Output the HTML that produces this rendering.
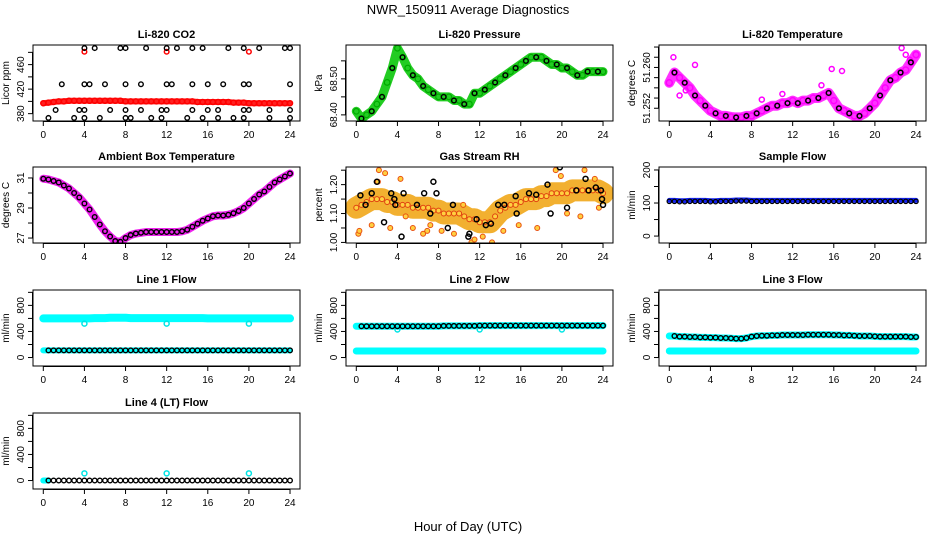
<!DOCTYPE html>
<html><head><meta charset="utf-8"><style>
html,body{margin:0;padding:0;background:#fff;}
svg{display:block;font-family:"Liberation Sans",sans-serif;}
</style></head><body>
<svg id="chart" width="936" height="540" viewBox="0 0 936 540" xmlns="http://www.w3.org/2000/svg">
<defs id="defs"></defs>
<rect width="936" height="540" fill="#fff"/>
<text x="468" y="14" text-anchor="middle" font-size="13">NWR_150911  Average Diagnostics</text>
<text x="468" y="531" text-anchor="middle" font-size="13">Hour of Day (UTC)</text>
</svg>
<script>
const xTicks=[0,4,8,12,16,20,24];
const co2Red=[397,398,399,400,400,401,401,401,401,401,401,401,401,401,401,401,400,400,400,400,400,400,400,400,400,400,400,400,400,400,399,399,399,399,399,399,399,398,398,398,397,397,397,397,397,397,397,397,397];
const co2BlackHours=[4,5,7.5,8,10,12,13,14.5,15.5,18,19.5,21,23.5,24, 1.8,4,4.5,6,8,9.5,12,12.5,14.5,16,17.5,19.5,20,24, 1.2,3.5,4,6.5,8,9.5,11.5,12,14.5,16,17,19.5,20,22,24, 0.5,3,4,5.5,8,8.5,10.5,11.5,14,15.5,17,18.5,19.5,22,24];
const co2BlackValues=[487,487,487,487,487,487,487,487,487,487,487,487,487,487, 428,428,428,428,428,428,428,428,428,428,428,428,428,428, 386,386,386,386,386,386,386,386,386,386,386,386,386,386,386, 373,373,373,373,373,373,373,373,373,373,373,373,373,373,373];
const co2OutHours=[4,12,20];
const co2OutValues=[481,481,481];
const pressure=[68.41,68.39,68.40,68.41,68.43,68.45,68.49,68.53,68.585,68.56,68.53,68.51,68.50,68.48,68.47,68.46,68.45,68.45,68.45,68.44,68.44,68.43,68.43,68.46,68.46,68.47,68.48,68.49,68.50,68.51,68.52,68.53,68.54,68.55,68.56,68.56,68.56,68.55,68.54,68.54,68.53,68.53,68.52,68.51,68.51,68.52,68.52,68.52,68.52];
const liTemp=[51.257,51.259,51.258,51.257,51.256,51.2545,51.2535,51.2525,51.2515,51.251,51.2505,51.2505,51.2503,51.2502,51.2502,51.2505,51.2505,51.251,51.2515,51.252,51.2525,51.2525,51.253,51.253,51.2535,51.253,51.2535,51.2535,51.254,51.254,51.2545,51.255,51.2535,51.252,51.2515,51.251,51.2505,51.2505,51.251,51.252,51.253,51.2545,51.256,51.2575,51.258,51.259,51.2595,51.261,51.2625];
const liTempOutHours=[0.4,1,1.6,9,15.8,16.8,22.6,23,23.4,2.5,14.8,11];
const liTempOutValues=[51.262,51.2545,51.2555,51.2537,51.2597,51.2593,51.2638,51.2625,51.2615,51.2605,51.2565,51.2548];
const ambient=[30.95,30.9,30.8,30.7,30.5,30.3,30.0,29.7,29.3,28.9,28.4,27.9,27.45,27.1,26.8,26.75,27.0,27.2,27.3,27.35,27.4,27.4,27.4,27.4,27.4,27.4,27.4,27.45,27.55,27.75,27.95,28.15,28.3,28.45,28.5,28.5,28.55,28.65,28.8,29.0,29.3,29.6,29.9,30.1,30.4,30.7,30.9,31.1,31.3];
const rhMean=[1.12,1.13,1.14,1.15,1.15,1.15,1.14,1.14,1.13,1.13,1.13,1.12,1.12,1.12,1.12,1.11,1.11,1.10,1.10,1.10,1.10,1.09,1.08,1.08,1.07,1.07,1.07,1.09,1.11,1.12,1.13,1.13,1.14,1.15,1.15,1.15,1.16,1.16,1.17,1.17,1.17,1.17,1.18,1.18,1.18,1.18,1.18,1.18,1.17];
const rhScatterHours=[0.2,0.3,1.5,2.2,2.8,3.3,4.3,4.8,5.5,6.5,7.2,8.3,9.5,10.4,11.2,11.5,12.3,13.2,14.3,15.8,17.6,19.4,19.9,20.5,21.8,22.2,23.2,23.6,2.1,6.9];
const rhScatterValues=[1.03,1.04,1.06,1.25,1.24,1.05,1.22,1.09,1.05,1.03,1.06,1.04,1.03,1.13,1.00,1.01,1.02,1.00,1.04,1.06,1.05,1.25,1.23,1.10,1.09,1.25,1.22,1.12,1.21,1.04];
const rhBlackHours=[0.4,0.9,1.5,2.0,2.7,3.4,3.7,3.8,4.4,4.6,5.9,6.6,7.2,7.5,7.8,8.9,9.4,10.9,11.0,11.7,12.6,13.1,13.8,14.4,15.5,15.6,16.8,17.5,18.6,18.9,19.8,20.5,21.4,22.3,22.6,23.3,23.8,23.9,24.0];
const rhBlackValues=[1.163,1.13,1.17,1.21,1.07,1.17,1.15,1.13,1.02,1.17,1.13,1.17,1.10,1.21,1.17,1.05,1.13,1.02,1.03,1.08,1.06,1.065,1.13,1.13,1.16,1.10,1.17,1.165,1.20,1.10,1.26,1.12,1.18,1.22,1.18,1.19,1.18,1.15,1.13];
const sampleFlow=[108,108,107,107,108,108,108,108,107,107,108,108,108,109,109,109,108,108,108,108,108,108,108,108,108,108,108,108,108,108,108,108,108,108,108,108,108,108,108,108,108,108,108,108,108,108,108,108,108];
const line1Cyan=[600,600,600,600,600,600,600,600,600,600,605,605,605,610,610,610,610,605,605,605,605,605,605,605,605,605,605,605,605,605,605,605,600,600,600,600,600,600,600,600,600,600,600,600,600,600,600,600,600];
const line1Black=[110,110,110,110,110,110,110,110,110,110,110,110,110,110,110,110,110,110,110,110,110,110,110,110,110,110,110,110,110,110,110,110,110,110,110,110,110,110,110,110,110,110,110,110,110,110,110,110,110];
const line1OutHours=[4,12,20];
const line1OutValues=[520,520,520];
const line2Black=[480,480,480,480,480,480,480,480,480,480,480,480,480,480,480,480,480,485,485,485,485,485,485,485,490,490,490,490,490,490,490,490,490,490,490,490,490,490,490,490,490,490,490,490,490,490,490,490,490];
const line2Low=[100,100,100,100,100,100,100,100,100,100,100,100,100,100,100,100,100,100,100,100,100,100,100,100,100,100,100,100,100,100,100,100,100,100,100,100,100,100,100,100,100,100,100,100,100,100,100,100,100];
const line2OutHours=[4,12,20];
const line2OutValues=[430,430,430];
const line3Black=[330,330,320,320,315,315,310,310,305,305,300,300,295,290,290,300,320,330,335,335,340,340,345,345,345,345,345,350,350,350,350,350,345,345,340,340,335,330,330,330,325,320,320,320,320,320,320,315,315];
const line3Low=[100,100,100,100,100,100,100,100,100,100,100,100,100,100,100,100,100,100,100,100,100,100,100,100,100,100,100,100,100,100,100,100,100,100,100,100,100,100,100,100,100,100,100,100,100,100,100,100,100];
const line4Black=[0,0,0,0,0,0,0,0,0,0,0,0,0,0,0,0,0,0,0,0,0,0,0,0,0,0,0,0,0,0,0,0,0,0,0,0,0,0,0,0,0,0,0,0,0,0,0,0,0];
const line4OutHours=[4,12,20];
const line4OutValues=[110,110,110];

const NS="http://www.w3.org/2000/svg";
const svg=document.getElementById('chart');
const defs=document.getElementById('defs');
const colLeft=[33,346,659], rowTop=[45,167,290,413], PW=267, PH=76;
function mk(tag,attrs,parent){const e=document.createElementNS(NS,tag);for(const k in attrs)e.setAttribute(k,attrs[k]);parent.appendChild(e);return e;}
function halfHours(n){const a=[];for(let i=0;i<n;i++)a.push(i*0.5);return a;}

function panel(name,c,r,title,ylab,ymin,ymax,ticks,labels){
  const L=colLeft[c],T=rowTop[r];
  const cp=mk('clipPath',{id:'clip-'+name},defs);
  mk('rect',{x:L,y:T,width:PW,height:PH},cp);
  const g=mk('g',{},svg);
  
  
  const sx=h=>L+10.3+h*10.28;
  const sy=v=>T+(ymax-v)/(ymax-ymin)*PH;
  const t=mk('text',{x:L+PW/2,y:T-7,'text-anchor':'middle','font-size':11,'font-weight':'bold'},g);
  t.textContent=title;
  
  
  const plot=mk('g',{'clip-path':'url(#clip-'+name+')'},g);
  
  
  const box=mk('rect',{x:L,y:T,width:PW,height:PH,fill:'none',stroke:'#000','stroke-width':1},g);
  
  
  const xa=mk('g',{},g);
  
  
  mk('line',{x1:sx(0),x2:sx(24),y1:T+PH+0.5,y2:T+PH+0.5,stroke:'#000'},xa);
  xTicks.forEach(v=>{
    mk('line',{x1:sx(v),x2:sx(v),y1:T+PH,y2:T+PH+5,stroke:'#000'},xa);
    const tl=mk('text',{x:sx(v),y:T+PH+17,'text-anchor':'middle','font-size':10},xa);
    tl.textContent=v;
    
    
  });
  const ya=mk('g',{},g);
  
  
  const inT=ticks.filter(v=>v>=ymin-1e-9&&v<=ymax+1e-9);
  mk('line',{x1:L-0.5,x2:L-0.5,y1:sy(inT[0]),y2:sy(inT[inT.length-1]),stroke:'#000'},ya);
  inT.forEach(v=>mk('line',{x1:L-5,x2:L,y1:sy(v),y2:sy(v),stroke:'#000'},ya));
  labels.forEach(v=>{
    const y=sy(v);
    const tl=mk('text',{x:0,y:0,'text-anchor':'middle','font-size':10,transform:`translate(${L-9},${y}) rotate(-90)`},ya);
    tl.textContent=(ticks.dec!==undefined?v.toFixed(ticks.dec):v);
    
    
  });
  const yl=mk('text',{x:0,y:0,'text-anchor':'middle','font-size':10,transform:`translate(${L-24},${T+PH/2}) rotate(-90)`},g);
  yl.textContent=ylab;
  
  
  return {g:plot,sx,sy};
}
function circles(p,hours,vals,stroke,fill,r,sw,nm){
  hours.forEach((h,i)=>{
    const c=mk('circle',{cx:p.sx(h),cy:p.sy(vals[i]),r:r,stroke:stroke,fill:fill,'stroke-width':sw},p.g);
    
    
  });
}
function band(p,hours,vals,color,w,nm){
  const pts=hours.map((h,i)=>p.sx(h)+','+p.sy(vals[i])).join(' ');
  const pl=mk('polyline',{points:pts,fill:'none',stroke:color,'stroke-width':w,'stroke-linejoin':'round','stroke-linecap':'round'},p.g);
  
  
}
const H=halfHours(49);
function withDec(arr,d){arr.dec=d;return arr;}

let p=panel('co2',0,0,'Li-820 CO2','Licor ppm',368,492,[380,400,420,440,460,480],[380,420,460]);
band(p,H,co2Red,'#ff2020',6,'co2-red-band');
circles(p,H,co2Red,'#ff0000','none',2.5,1.5,'co2-red-point');
circles(p,co2OutHours,co2OutValues,'#ff0000','none',2.3,1.5,'co2-red-outlier');
circles(p,co2BlackHours,co2BlackValues,'#000','none',2.3,1.4,'co2-black-point');

p=panel('pressure',1,0,'Li-820 Pressure','kPa',68.383,68.594,withDec([68.40,68.45,68.50,68.55],2),[68.40,68.50]);
band(p,H,pressure,'#22cc22',9,'pressure-green-band');
circles(p,H,pressure,'#00aa00','none',2.8,1.2,'pressure-green-point');
circles(p,H.filter((h,i)=>i%2==1),pressure.filter((v,i)=>i%2==1),'#000','none',2.3,1.4,'pressure-black-point');

p=panel('li-temperature',2,0,'Li-820 Temperature','degrees C',51.2495,51.2644,withDec([51.252,51.254,51.256,51.258,51.260,51.262,51.264],3),[51.252,51.260]);
band(p,H,liTemp,'#ff33ff',10,'li-temp-magenta-band');
circles(p,H,liTemp,'#ff00ff','none',3,1.5,'li-temp-magenta-point');
circles(p,liTempOutHours,liTempOutValues,'#ff00ff','none',2.5,1.5,'li-temp-outlier');
circles(p,H.filter((h,i)=>i%2==1),liTemp.filter((v,i)=>i%2==1),'#000','none',2.3,1.5,'li-temp-black-point');

p=panel('ambient-temp',0,1,'Ambient Box Temperature','degrees C',26.67,31.73,[27,28,29,30,31],[27,29,31]);
band(p,H,ambient,'#ee22ee',8,'ambient-magenta-band');
circles(p,H,ambient,'#000','none',2.3,1.4,'ambient-black-point');

p=panel('gas-rh',1,1,'Gas Stream RH','percent',0.998,1.261,withDec([1.00,1.05,1.10,1.15,1.20,1.25],2),[1.00,1.10,1.20]);
band(p,H,rhMean,'#f2b030',22,'rh-orange-band');
circles(p,H,rhMean,'#e04010','#ffd040',2.5,1,'rh-orange-point');
circles(p,rhScatterHours,rhScatterValues,'#e85010','#ffd040',2.5,1,'rh-scatter-point');
circles(p,rhBlackHours,rhBlackValues,'#000','none',2.5,1.5,'rh-black-point');

p=panel('sample-flow',2,1,'Sample Flow','ml/min',-21,209,[0,50,100,150,200],[0,100,200]);
band(p,H,sampleFlow,'#1020ee',5,'sample-flow-blue-band');
circles(p,H,sampleFlow.map(v=>v-3),'#000','none',2.2,1.2,'sample-flow-black-point');

const flowTicks=[0,200,400,600,800,1000], flowLabels=[0,400,800];
p=panel('line1-flow',0,2,'Line 1 Flow','ml/min',-130,1036,flowTicks,flowLabels);
band(p,H,line1Cyan,'#00ffff',8,'line1-cyan-band');
band(p,H,line1Black,'#00ffff',6,'line1-cyan-low-band');
circles(p,line1OutHours,line1OutValues,'#00e5e5','none',2.5,1.5,'line1-cyan-outlier');
circles(p,H.slice(1),line1Black.slice(1),'#000','none',2.3,1.4,'line1-black-point');

p=panel('line2-flow',1,2,'Line 2 Flow','ml/min',-130,1036,flowTicks,flowLabels);
band(p,H,line2Black,'#00ffff',7,'line2-cyan-band');
band(p,H,line2Low,'#00ffff',7,'line2-cyan-low-band');
circles(p,line2OutHours,line2OutValues,'#00e5e5','none',2.5,1.5,'line2-cyan-outlier');
circles(p,H.slice(1),line2Black.slice(1),'#000','none',2.3,1.4,'line2-black-point');

p=panel('line3-flow',2,2,'Line 3 Flow','ml/min',-130,1036,flowTicks,flowLabels);
band(p,H,line3Black,'#00ffff',7,'line3-cyan-band');
band(p,H,line3Low,'#00ffff',7,'line3-cyan-low-band');
circles(p,H.slice(1),line3Black.slice(1),'#000','none',2.3,1.4,'line3-black-point');

p=panel('line4-flow',0,3,'Line 4 (LT) Flow','ml/min',-130,1036,flowTicks,flowLabels);
band(p,H.slice(0,2),line4Black.slice(0,2),'#00ffff',6,'line4-cyan-band');
circles(p,line4OutHours,line4OutValues,'#00e5e5','none',2.5,1.5,'line4-cyan-outlier');
circles(p,H.slice(1),line4Black.slice(1),'#000','none',2.3,1.4,'line4-black-point');
</script>
</body></html>
